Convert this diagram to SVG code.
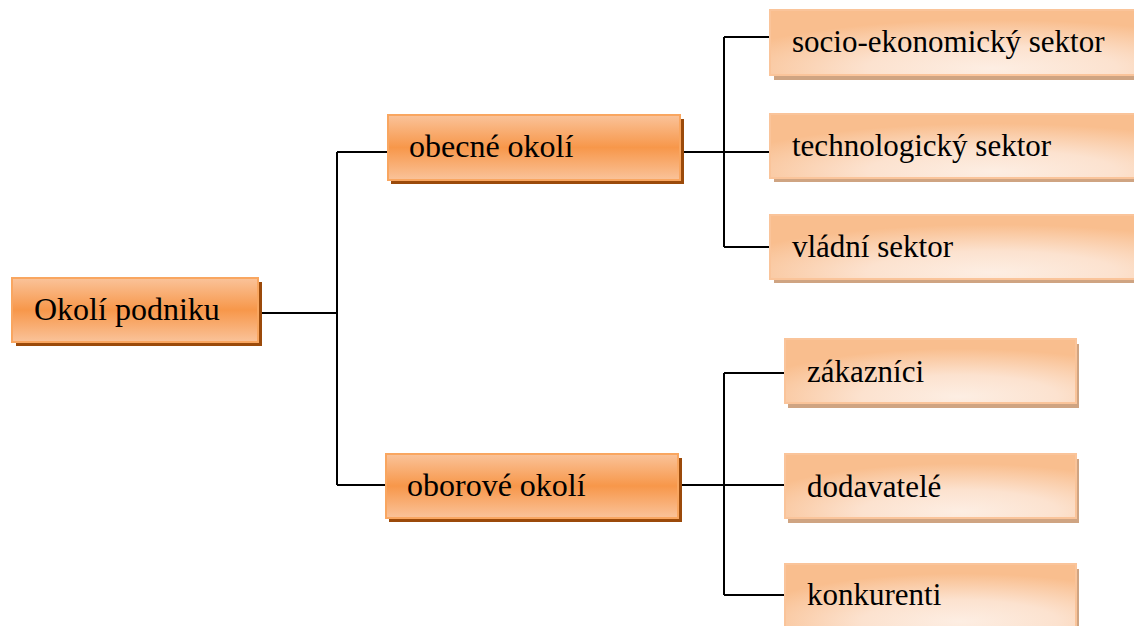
<svg xmlns="http://www.w3.org/2000/svg" width="1134" height="626" viewBox="0 0 1134 626">
<defs>
<linearGradient id="gMain" x1="0" y1="0" x2="0" y2="1">
<stop offset="0" stop-color="#FAC39A"/>
<stop offset="0.5" stop-color="#F7974A"/>
<stop offset="1" stop-color="#FAC39A"/>
</linearGradient>
<radialGradient id="gLeaf" cx="0.6" cy="0.9" r="0.75" fx="0.6" fy="0.9">
<stop offset="0" stop-color="#FDEEE3"/>
<stop offset="0.45" stop-color="#FCE2CF"/>
<stop offset="1" stop-color="#F9BE8E"/>
</radialGradient>
</defs>
<style>
.shM{fill:#9B4A0A}
.bxM{fill:url(#gMain);stroke:#F9A660;stroke-width:2}
.shL{fill:#CFA482}
.bxL{fill:url(#gLeaf);stroke:#FAC49A;stroke-width:2}
.t{font-family:"Liberation Serif","Times New Roman",serif;fill:#000}
.tm{font-size:32px}
.tl{font-size:31px}
.c{fill:none;stroke:#000;stroke-width:2}
</style>
<g id="connectors">
<path class="c" d="M258,313 H337 M337,152 V485 M337,152 H388 M337,485 H386"/>
<path class="c" d="M680,152 H771 M724,37 V247 M724,37 H771 M724,247 H771"/>
<path class="c" d="M678,485 H785 M724,373 V595 M724,373 H785 M724,595 H785"/>
</g>
<g id="root">
<rect class="shM" x="16" y="282" width="246" height="64"/>
<rect class="bxM" x="12" y="278" width="246" height="64"/>
<text class="t tm" x="34" y="320">Okolí podniku</text>
</g>
<g id="obecne">
<rect class="shM" x="391" y="119" width="293" height="65"/>
<rect class="bxM" x="388" y="115" width="292" height="65"/>
<text class="t tm" x="409" y="157">obecné okolí</text>
</g>
<g id="oborove">
<rect class="shM" x="389" y="458" width="293" height="64"/>
<rect class="bxM" x="386" y="454" width="292" height="64"/>
<text class="t tm" x="407" y="496">oborové okolí</text>
</g>
<g id="socio">
<rect class="shL" x="774" y="15" width="370" height="65"/>
<rect class="bxL" x="770" y="10" width="370" height="65"/>
<text class="t tl" x="792" y="52">socio-ekonomický sektor</text>
</g>
<g id="tech">
<rect class="shL" x="774" y="118" width="370" height="64"/>
<rect class="bxL" x="770" y="114" width="370" height="64"/>
<text class="t tl" x="792" y="156">technologický sektor</text>
</g>
<g id="vladni">
<rect class="shL" x="774" y="219" width="370" height="64"/>
<rect class="bxL" x="770" y="215" width="370" height="64"/>
<text class="t tl" x="792" y="257">vládní sektor</text>
</g>
<g id="zakaznici">
<rect class="shL" x="788" y="344" width="291" height="64"/>
<rect class="bxL" x="785" y="339" width="291" height="64"/>
<text class="t tl" x="807" y="382">zákazníci</text>
</g>
<g id="dodavatele">
<rect class="shL" x="788" y="459" width="291" height="64"/>
<rect class="bxL" x="785" y="454" width="291" height="64"/>
<text class="t tl" x="807" y="497">dodavatelé</text>
</g>
<g id="konkurenti">
<rect class="shL" x="788" y="569" width="291" height="64"/>
<rect class="bxL" x="785" y="564" width="291" height="64"/>
<text class="t tl" x="807" y="605">konkurenti</text>
</g>
</svg>
